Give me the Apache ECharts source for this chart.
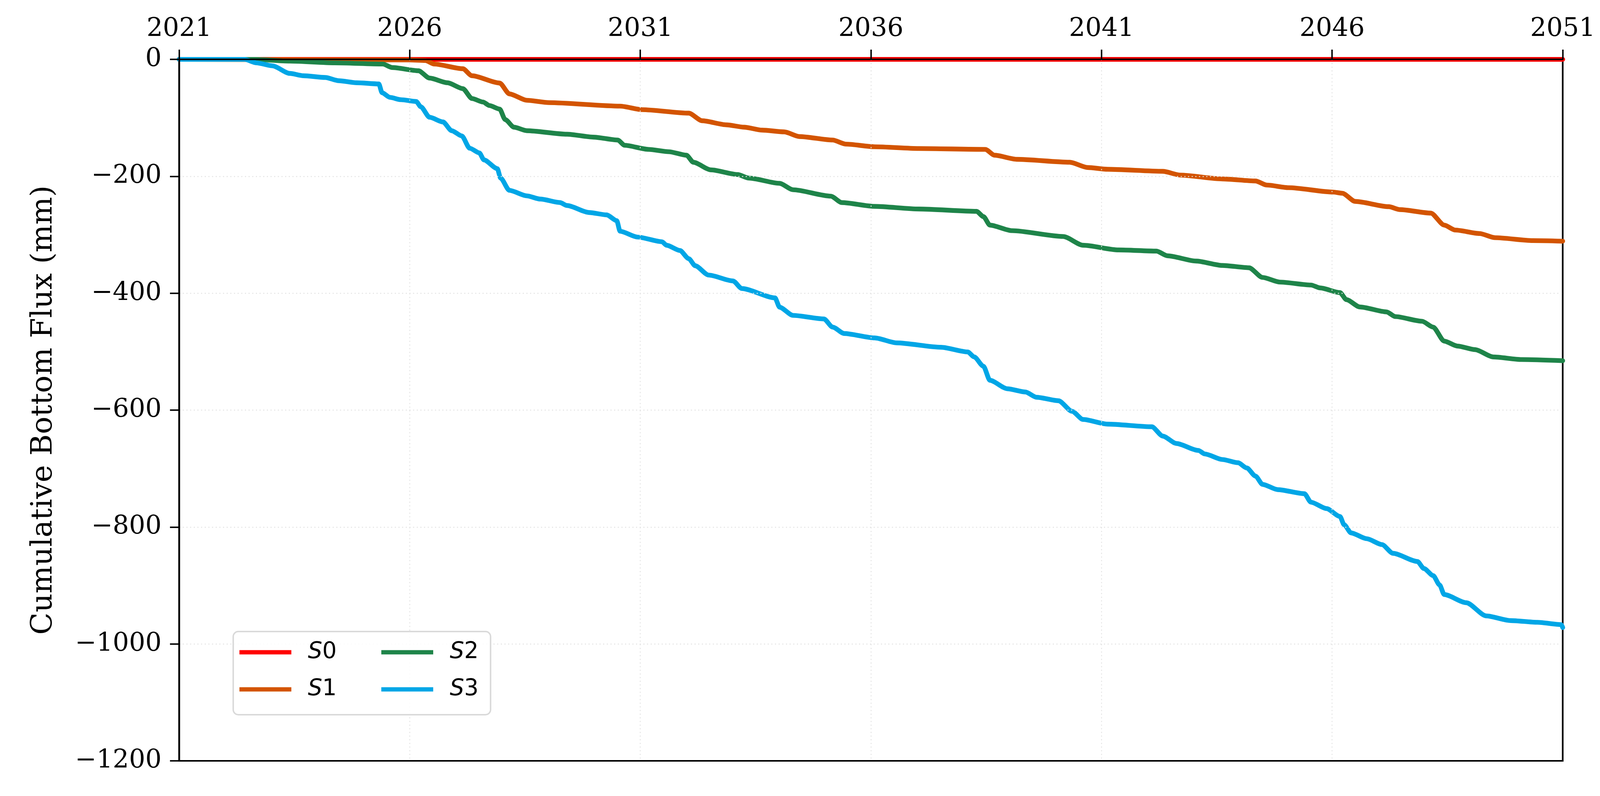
<!DOCTYPE html>
<html>
<head>
<meta charset="utf-8">
<script src="https://cdn.jsdelivr.net/npm/echarts@6/dist/echarts.min.js"></script>
<style>
html,body{margin:0;padding:0;background:#fff;overflow:hidden;width:100%;height:100%;}
#chart{width:100vw;height:100vh;}
</style>
</head>
<body>
<div id="chart"></div>
<script>
// x values are years since the start year
const startYear = 2021;
const seriesNames = ['S0', 'S1', 'S2', 'S3'];
const seriesColors = ['#ff0000', '#d35400', '#1e8449', '#00a6e6'];
const yAxisTitle = 'Cumulative Bottom Flux (mm)';

const s0 = [[0,0],[30,0]];

const s1 = [[0,0],[5.0,-1],[5.34,-2],[5.53,-8],[6.15,-16],[6.35,-28],[6.95,-40.5],[7.16,-59],[7.54,-70],
[8.02,-74],[9.56,-80],[10.04,-86],[11.05,-92],[11.34,-105],[11.87,-112],[12.25,-116],[12.64,-121],
[13.12,-124],[13.45,-132],[14.17,-138],[14.46,-145],[15.08,-149.5],[16.04,-152.5],[17.48,-154],
[17.68,-164],[18.16,-171],[19.31,-176],[19.70,-185],[20.13,-188],[21.33,-191.5],[21.71,-198],
[22.62,-204.5],[23.34,-208],[23.58,-215],[24.06,-219.5],[25.02,-227],[25.22,-229],[25.50,-243],
[26.23,-252],[26.47,-257],[27.14,-263],[27.43,-283.5],[27.67,-292],[28.20,-298],[28.53,-305],
[29.35,-310],[30,-311]];

const s2 = [[0,0],[1.6,0],[2.4,-3],[3.37,-6],[4.42,-8],[4.62,-14],[5.19,-19.5],[5.43,-32],[5.82,-40],
[6.15,-50],[6.35,-67],[6.59,-73],[6.73,-79],[6.95,-85],[7.07,-103],[7.26,-116],[7.54,-122],
[8.41,-128],[8.98,-133],[9.51,-138],[9.66,-147],[10.18,-154],[10.62,-158],[11.0,-164],[11.15,-176],
[11.53,-189],[12.11,-197],[12.35,-203],[13.02,-212],[13.31,-223],[14.13,-234],[14.37,-245],
[15.08,-251.5],[16.04,-256],[17.29,-260],[17.44,-269],[17.58,-283.5],[18.06,-293],[19.17,-303],
[19.60,-318],[20.37,-326],[21.19,-328],[21.43,-336],[22.05,-345],[22.62,-352.5],[23.20,-356.5],
[23.49,-373],[23.87,-381],[24.54,-386],[24.74,-391],[25.17,-399],[25.31,-411],[25.60,-423.5],
[26.18,-432],[26.37,-440],[26.95,-448],[27.19,-458],[27.43,-482],[27.72,-490.5],[28.10,-496.5],
[28.49,-509],[29.11,-513.5],[30,-515.5]];

const s3 = [[0,0],[1.42,0],[1.68,-6],[2.02,-11],[2.40,-24],[2.69,-28],[3.17,-31],[3.46,-36.5],[3.85,-40],
[4.33,-42],[4.40,-57],[4.57,-65],[4.81,-69],[5.14,-72],[5.24,-81],[5.43,-99],[5.72,-107],[5.91,-122],
[6.13,-131],[6.30,-152],[6.51,-160],[6.61,-172],[6.90,-187],[6.97,-203],[7.16,-224],[7.54,-233.5],
[7.83,-239],[8.26,-245],[8.41,-250],[8.89,-262],[9.27,-266],[9.49,-276],[9.56,-294],[9.94,-304],
[10.47,-312],[10.57,-318],[10.86,-327],[11.05,-341],[11.19,-353],[11.48,-369],[12.01,-379],
[12.20,-392],[12.92,-408],[13.02,-424],[13.31,-438],[13.98,-444],[14.17,-458],[14.42,-469],
[15.08,-476.5],[15.56,-485],[16.52,-492.5],[17.10,-500.5],[17.24,-509],[17.44,-525],[17.58,-549],
[17.96,-563.5],[18.35,-569],[18.59,-578],[19.07,-584],[19.36,-602],[19.60,-616],[20.13,-624],
[21.09,-628.5],[21.33,-644.5],[21.62,-657],[22.10,-669],[22.24,-675],[22.62,-684.5],[22.96,-690],
[23.15,-699],[23.34,-713],[23.49,-727],[23.82,-736],[24.40,-743],[24.54,-757.5],[24.88,-768.5],
[25.17,-782],[25.26,-796],[25.41,-810],[25.75,-820],[26.08,-830],[26.32,-845],[26.85,-859],
[26.99,-871],[27.19,-883],[27.33,-899],[27.43,-915.5],[27.91,-929.5],[28.34,-952],[28.87,-960],
[29.45,-963],[29.97,-967],[30,-972]];

const seriesData = [s0, s1, s2, s3];

const serif = 'DejaVu Serif';
const el = document.getElementById('chart');
const W = el.clientWidth || window.innerWidth;
const H = el.clientHeight || window.innerHeight;
// layout designed for a 4377 x 2038 canvas; scale every size to the real viewport
const sx = W / 4377, sy = H / 2038, s = Math.min(sx, sy);
const px = v => v * s;

const chart = echarts.init(el, null, {renderer: 'canvas'});

const legendCommon = {
  orient: 'horizontal',
  padding: 0,
  itemWidth: 142 * sx,
  itemHeight: px(12),
  itemGap: 122 * sx,
  icon: 'rect',
  formatter: n => '{it|' + n.charAt(0) + '}' + n.slice(1),
  textStyle: {
    fontFamily: 'DejaVu Sans', fontSize: px(62), color: '#000', lineHeight: 72 * sy,
    padding: [0, 0, 0, 40 * sx],
    rich: { it: { fontStyle: 'italic', fontFamily: 'DejaVu Sans', fontSize: px(62), lineHeight: 72 * sy } }
  }
};

const gridLine = { show: true, showMinLine: false, showMaxLine: false, lineStyle: { type: [px(3), px(7)], color: '#e2e2e2', width: px(2.5) } };

chart.setOption({
  animation: false,
  backgroundColor: '#fff',
  grid: { left: 490 * sx, right: 102 * sx, top: 152 * sy, bottom: 90 * sy, show: true, borderColor: '#000', borderWidth: px(4.5), backgroundColor: 'transparent' },
  graphic: [{
    type: 'rect', left: 636 * sx, top: 1615 * sy, z: 90,
    shape: { width: 704 * sx, height: 213 * sy, r: px(14) },
    style: { fill: 'rgba(255,255,255,0.85)', stroke: '#d9d9d9', lineWidth: px(4) }
  }],
  legend: [
    Object.assign({}, legendCommon, { left: 655 * sx, top: 1634 * sy, data: ['S0', 'S2'], z: 100 }),
    Object.assign({}, legendCommon, { left: 655 * sx, top: 1729 * sy, data: ['S1', 'S3'], z: 100 })
  ],
  xAxis: {
    type: 'value', position: 'top', min: 0, max: 30, interval: 5, z: 10,
    axisLine: { show: true, onZero: false, lineStyle: { color: '#000', width: px(4.5) } },
    axisTick: { show: true, inside: false, length: 25 * sy, lineStyle: { color: '#000', width: px(4) } },
    axisLabel: { formatter: v => String(startYear + v), fontFamily: serif, fontSize: px(70), color: '#000', margin: 44 * sy },
    splitLine: gridLine
  },
  yAxis: {
    type: 'value', min: -1200, max: 0, interval: 200, z: 10,
    name: yAxisTitle, nameLocation: 'middle', nameRotate: 90, nameGap: 330 * sx,
    nameTextStyle: { fontFamily: serif, fontSize: 75 * sy, color: '#000' },
    axisLine: { show: true, onZero: false, lineStyle: { color: '#000', width: px(4.5) } },
    axisTick: { show: true, inside: false, length: 25 * sx, lineStyle: { color: '#000', width: px(4) } },
    axisLabel: { formatter: v => v < 0 ? '\u2212' + Math.abs(v) : String(v), fontFamily: serif, fontSize: px(70), color: '#000', margin: 48 * sx },
    splitLine: gridLine
  },
  series: seriesNames.map((name, i) => ({
    name: name,
    type: 'line',
    data: seriesData[i],
    showSymbol: false,
    smooth: 0.25,
    smoothMonotone: 'x',
    clip: true,
    color: seriesColors[i],
    lineStyle: { color: seriesColors[i], width: px(13), cap: 'round', join: 'round' },
    z: 2 + i
  }))
});
</script>
</body>
</html>
